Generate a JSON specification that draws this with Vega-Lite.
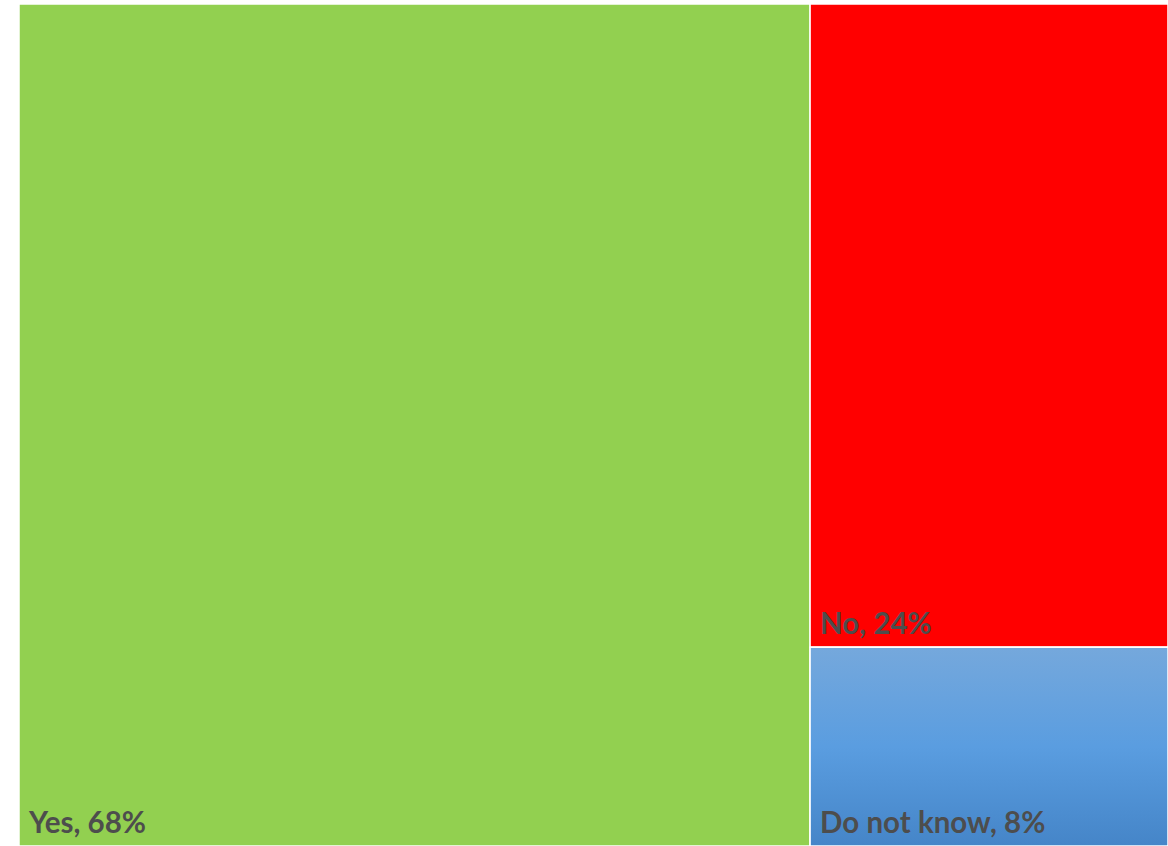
{
  "$schema": "https://vega.github.io/schema/vega-lite/v6.json",
  "autosize": {"type": "none"},
  "width": 1149,
  "height": 842,
  "padding": {"left": 19, "top": 4, "right": 0, "bottom": 0},
  "background": "white",
  "config": {"view": {"stroke": null}},
  "data": {
    "values": [
      {"category": "Yes", "label": "Yes, 68%", "value": 68.85, "column": "a", "order": 1},
      {"category": "No", "label": "No, 24%", "value": 23.8, "column": "b", "order": 2},
      {"category": "Do not know", "label": "Do not know, 8%", "value": 7.35, "column": "b", "order": 1}
    ]
  },
  "transform": [
    {"stack": "value", "groupby": [], "sort": [{"field": "column"}, {"field": "order", "order": "descending"}], "as": ["sx0", "sx1"]},
    {"joinaggregate": [{"op": "min", "field": "sx0", "as": "cx0"}, {"op": "max", "field": "sx1", "as": "cx1"}], "groupby": ["column"]},
    {"stack": "value", "groupby": ["column"], "offset": "normalize", "sort": [{"field": "order"}], "as": ["cy0", "cy1"]}
  ],
  "layer": [
    {
      "mark": {"type": "rect", "stroke": "white", "strokeWidth": 1.5},
      "encoding": {
        "x": {"field": "cx0", "type": "quantitative", "scale": {"domain": [0, 100], "nice": false, "zero": false}, "axis": null},
        "x2": {"field": "cx1"},
        "y": {"field": "cy0", "type": "quantitative", "scale": {"domain": [0, 1], "nice": false}, "axis": null},
        "y2": {"field": "cy1"},
        "color": {
          "field": "category",
          "type": "nominal",
          "scale": {"domain": ["Yes", "No", "Do not know"], "range": ["#92d050", "#ff0000", "#5b9bd5"]},
          "legend": null
        }
      }
    },
    {
      "transform": [{"filter": "datum.category === 'Do not know'"}],
      "mark": {
        "type": "rect",
        "stroke": "white",
        "strokeWidth": 1.5,
        "fill": {
          "gradient": "linear",
          "x1": 0, "y1": 0, "x2": 0, "y2": 1,
          "stops": [
            {"offset": 0, "color": "#75a8dc"},
            {"offset": 0.5, "color": "#5a9de0"},
            {"offset": 1, "color": "#4585c8"}
          ]
        }
      },
      "encoding": {
        "x": {"field": "cx0", "type": "quantitative"},
        "x2": {"field": "cx1"},
        "y": {"field": "cy0", "type": "quantitative"},
        "y2": {"field": "cy1"}
      }
    },
    {
      "mark": {
        "type": "text",
        "align": "left",
        "baseline": "alphabetic",
        "dx": 10,
        "dy": -13,
        "font": "Lato",
        "fontWeight": "bold",
        "fontSize": 29.5,
        "fill": "#4d4d4d"
      },
      "encoding": {
        "x": {"field": "cx0", "type": "quantitative"},
        "y": {"field": "cy0", "type": "quantitative"},
        "text": {"field": "label", "type": "nominal"}
      }
    }
  ]
}
